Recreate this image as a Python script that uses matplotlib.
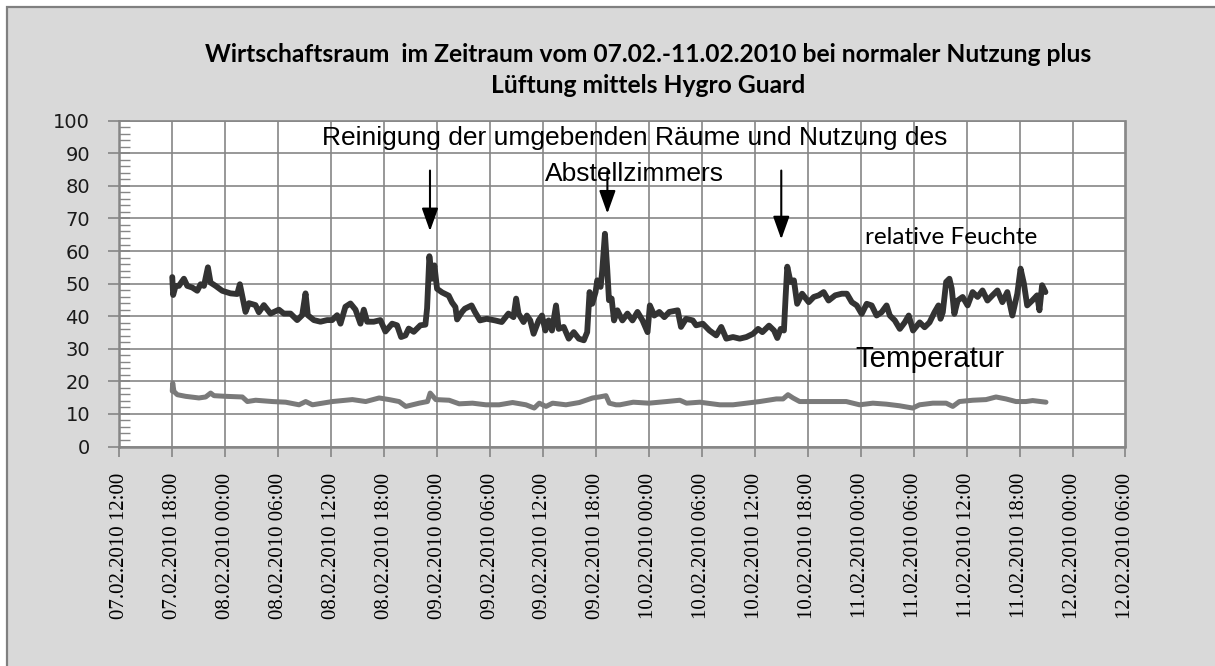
import matplotlib
matplotlib.use("Agg")
import matplotlib.pyplot as plt
import matplotlib.dates as mdates
from matplotlib.patches import Rectangle
from matplotlib.ticker import MultipleLocator
from datetime import datetime, timedelta

# ---------------- data ----------------
START = datetime(2010, 2, 7, 18, 0)   # first measurement

hum_hours = [0.0, 0.1, 0.38, 0.75, 1.32, 1.70, 2.26, 2.83, 3.21, 3.59,
             4.04, 4.34, 4.91, 5.66, 6.60, 7.36, 7.66, 7.92, 8.30, 8.68,
             9.43, 9.81, 10.38, 11.13, 12.08, 12.64, 13.40, 14.15, 14.72, 15.10,
             15.36, 16.04, 16.79, 17.55, 18.11, 18.68, 19.06, 19.62, 20.19, 20.76,
             21.32, 21.70, 22.08, 22.83, 23.58, 24.15, 24.91, 25.47, 25.93, 26.42,
             26.79, 27.36, 28.11, 28.68, 28.87, 29.13, 29.43, 29.70, 30.00, 30.57,
             31.32, 31.70, 32.08, 32.27, 32.83,
             33.15, 33.91, 34.29, 34.86, 35.62, 36.57, 37.33, 38.09, 38.66, 38.96,
             39.23, 39.80, 40.18, 40.56, 40.94, 41.51, 41.89, 42.27, 42.64, 43.02,
             43.48, 43.78, 44.35, 44.92, 45.49, 46.06, 46.63, 47.01, 47.28, 47.58,
             47.96, 48.15, 48.53, 48.72, 49.02, 49.29, 49.48, 49.78, 50.05, 50.43,
             51.00, 51.57, 52.14, 52.71, 53.28, 53.85, 54.11, 54.61, 55.18, 55.75,
             56.31, 57.26, 57.64, 58.21, 58.97, 59.35, 60.11, 60.87, 61.63, 62.20,
             62.77, 63.53, 64.29, 65.05, 65.81, 66.38,
             66.86, 67.61, 68.18, 68.55, 68.93, 69.30, 69.49, 69.68, 70.05, 70.43,
             70.80, 71.36, 72.11, 72.68, 73.24, 73.80, 74.36, 75.11, 75.86, 76.43,
             76.99, 77.55, 78.11, 78.68, 79.24, 79.80, 80.36, 80.93, 81.30, 81.86,
             82.43, 82.99, 83.44, 83.93, 84.68, 85.24, 85.80, 86.36, 86.81, 87.04,
             87.30, 87.68, 88.05, 88.31, 88.61, 88.99, 89.55, 90.11, 90.68, 91.24,
             91.80, 92.36, 92.93, 93.49, 94.05, 94.61, 95.18, 95.74, 96.11, 96.49,
             96.86, 97.43, 97.99, 98.25, 98.55, 98.93]
hum_values = [52, 46.5, 49.3, 49.3, 51.5, 49.3, 48.8, 47.8, 49.8, 49.3,
              55, 50.3, 49.3, 47.8, 47, 46.8, 49.8, 46.3, 41.3, 44,
              43.4, 41.2, 43.4, 40.8, 42, 40.8, 40.8, 38.8, 40.3, 47,
              40.3, 38.8, 38.3, 38.8, 38.8, 40.3, 37.7, 42.9, 43.9, 42,
              37.7, 42, 38.3, 38.3, 38.8, 35.3, 37.7, 37.2, 33.6, 34.1,
              36.2, 35.2, 37.2, 37.4, 42.4, 58.4, 51.5, 55.6, 48.4, 47.3,
              46.3, 44.2, 42.8, 39, 41.3,
              42.3, 43.3, 41.3, 38.7, 39.2, 38.7, 38.2, 40.8, 39.7, 45.4,
              40.8, 38.2, 40.2, 38.7, 34.6, 38.7, 40.2, 35.6, 38.7, 35.6,
              43.3, 36.1, 36.7, 33.1, 35.1, 33.1, 32.6, 35.1, 47.4, 43.8,
              47.4, 51, 49, 54.1, 65.3, 54.1, 44.9, 45.4, 38.7, 41.8,
              38.7, 40.8, 38.7, 41.3, 38.7, 35.1, 43.3, 40.2, 41.3, 39.7,
              41.3, 41.8, 36.7, 39.2, 38.7, 37.2, 37.7, 35.6, 34.1, 36.7,
              33.1, 33.6, 33.1, 33.6, 34.6, 36.1,
              35.1, 37.1, 35.6, 33.3, 36.1, 35.6, 45.9, 55.2, 50.5, 51,
              43.8, 46.9, 44.3, 45.9, 46.4, 47.4, 44.8, 46.4, 46.9, 46.9,
              44.3, 43.3, 40.7, 43.8, 43.3, 40.2, 41.2, 43.3, 40.2, 38.7,
              36.1, 38.1, 40.2, 35.6, 38.1, 36.6, 38.1, 41.2, 43.3, 39.2,
              41.2, 50.5, 51.5, 48.5, 40.7, 44.8, 45.9, 43.3, 47.4, 45.9,
              47.9, 44.8, 46.4, 47.9, 44.3, 47.4, 40.2, 46.9, 54.6, 50,
              43.3, 44.8, 46.4, 41.8, 49.5, 47.4]

temp_hours = [0, 0.05, 0.19, 0.57, 1.51, 3.02, 3.78, 4.35, 4.73, 6.05,
              7.94, 8.51, 9.45, 11.34, 12.85, 14.36, 15.12, 15.88, 18.14, 20.41,
              21.92, 23.44, 24.57, 25.70, 26.46, 27.97, 28.92, 29.22, 29.86, 31.37,
              32.51, 34.02, 35.53, 37.04, 38.56, 40.07, 41.01, 41.58, 42.34, 43.09,
              44.60, 46.12, 47.63, 48.38, 49.14, 49.52, 50.27, 50.72, 52.23, 54.0,
              56.0, 57.51, 58.26, 59.77, 62.03, 63.54, 65.05, 66.56, 68.44, 69.20,
              69.76, 70.33, 71.08, 72.97, 74.85, 76.36, 77.87, 79.38, 80.89, 82.40,
              83.90, 84.66, 86.17, 87.68, 88.43, 89.18, 90.69, 92.20, 93.33, 94.46,
              95.59, 96.72, 97.48, 98.99]
temp_values = [17, 19.5, 16.9, 15.9, 15.4, 14.9, 15.2, 16.4, 15.6, 15.4,
               15.2, 13.8, 14.2, 13.8, 13.6, 12.8, 13.8, 12.8, 13.8, 14.4,
               13.8, 14.9, 14.4, 13.8, 12.3, 13.3, 13.8, 16.4, 14.4, 14.2,
               13.1, 13.3, 12.8, 12.8, 13.5, 12.8, 11.8, 13.3, 12.3, 13.3,
               12.8, 13.5, 14.9, 15.2, 15.6, 13.3, 12.8, 12.8, 13.6, 13.3,
               13.8, 14.2, 13.3, 13.6, 12.8, 12.8, 13.3, 13.8, 14.6, 14.6,
               15.9, 14.9, 13.8, 13.8, 13.8, 13.8, 12.8, 13.3, 13.0, 12.5,
               11.8, 12.8, 13.3, 13.3, 12.3, 13.8, 14.2, 14.4, 15.2, 14.6,
               13.8, 13.8, 14.1, 13.6]

tick_labels = ["07.02.2010 12:00", "07.02.2010 18:00", "08.02.2010 00:00",
               "08.02.2010 06:00", "08.02.2010 12:00", "08.02.2010 18:00",
               "09.02.2010 00:00", "09.02.2010 06:00", "09.02.2010 12:00",
               "09.02.2010 18:00", "10.02.2010 00:00", "10.02.2010 06:00",
               "10.02.2010 12:00", "10.02.2010 18:00", "11.02.2010 00:00",
               "11.02.2010 06:00", "11.02.2010 12:00", "11.02.2010 18:00",
               "12.02.2010 00:00", "12.02.2010 06:00"]
y_ticks = [0, 10, 20, 30, 40, 50, 60, 70, 80, 90, 100]

title_lines = ["Wirtschaftsraum  im Zeitraum vom 07.02.-11.02.2010 bei normaler Nutzung plus",
               "Lüftung mittels Hygro Guard"]
note_lines = ["Reinigung der umgebenden Räume und Nutzung des", "Abstellzimmers"]
arrow_hours = [29.2, 49.3, 69.0]
arrow_tops = [84.7, 84.5, 84.7]
arrow_tips = [66.1, 71.5, 63.6]

# ---------------- figure ----------------
W, H = 1215, 666
fig = plt.figure(figsize=(W / 100, H / 100), dpi=100)
fig.patch.set_facecolor("white")
fig.patches.append(Rectangle((7 / W, -10 / H), (W + 20) / W, (659 + 10) / H,
                             transform=fig.transFigure, facecolor="#d9d9d9",
                             edgecolor="#808080", lw=1.6, zorder=-10))


def hdate(h):
    return mdates.date2num(START + timedelta(hours=h))


ax = fig.add_axes([119.3 / W, 1 - 446.5 / H, (1125.5 - 119.3) / W, (446.5 - 120.7) / H])
ax.set_facecolor("white")

GRID = "#868686"
tick_dates = [mdates.date2num(datetime.strptime(s, "%d.%m.%Y %H:%M")) for s in tick_labels]
ax.set_xlim(tick_dates[0], tick_dates[-1])
ax.set_ylim(0, 100)
ax.set_xticks(tick_dates)
ax.set_xticklabels(tick_labels, rotation=90, family="Liberation Serif", fontsize=15)
ax.set_yticks(y_ticks)
ax.set_yticklabels([str(v) for v in y_ticks], family="DejaVu Sans", fontsize=14, color="#1a1a1a")
ax.yaxis.set_minor_locator(MultipleLocator(2))
ax.tick_params(axis="x", which="major", direction="out", length=7, width=1.2, color=GRID, pad=12)
ax.tick_params(axis="y", which="major", direction="inout", length=16, width=1.2, color=GRID, pad=13)
ax.tick_params(axis="y", which="minor", direction="in", length=8, width=1.0, color=GRID)
ax.grid(True, which="major", color=GRID, lw=1.2)
ax.set_axisbelow(True)
for sp in ax.spines.values():
    sp.set_color(GRID)
    sp.set_linewidth(1.2)
ax.spines["bottom"].set_linewidth(1.8)
ax.spines["left"].set_linewidth(1.8)

ax.plot([hdate(h) for h in temp_hours], temp_values, color="#7a7a7a", lw=3.6,
        solid_joinstyle="round", solid_capstyle="round", zorder=3)
ax.plot([hdate(h) for h in hum_hours], hum_values, color="#333333", lw=4.2,
        solid_joinstyle="round", solid_capstyle="round", zorder=4)

# arrows
for h, top, tip in zip(arrow_hours, arrow_tops, arrow_tips):
    ax.annotate("", xy=(hdate(h), tip), xytext=(hdate(h), top),
                arrowprops=dict(arrowstyle="-|>,head_length=0.7,head_width=0.25",
                                mutation_scale=20, lw=1.5, color="black",
                                shrinkA=0, shrinkB=0), zorder=6)

renderer = fig.canvas.get_renderer()


def fit_width(t, target):
    w = t.get_window_extent(renderer).width
    t.set_fontsize(t.get_fontsize() * target / w)


# title
t1 = fig.text(648.6 / W, 1 - 61.7 / H, title_lines[0], ha="center", va="baseline",
              family="Lato", weight="bold", fontsize=16, color="black")
fit_width(t1, 888)
fig.text(648.6 / W, 1 - 92.7 / H, title_lines[1], ha="center", va="baseline",
         family="Lato", weight="bold", fontsize=t1.get_fontsize(), color="black")

# notes
n1 = ax.text(hdate(52.4), 92.6, note_lines[0], ha="center", va="baseline",
             family="Liberation Sans", fontsize=19, color="black", zorder=7)
fit_width(n1, 626)
ax.text(hdate(52.4), 81.5, note_lines[1], ha="center", va="baseline",
        family="Liberation Sans", fontsize=n1.get_fontsize(), color="black", zorder=7)

rf = ax.text(hdate(78.5), 62.3, "relative Feuchte", ha="left", va="baseline",
             family="Lato", fontsize=15, color="black", zorder=7)
fit_width(rf, 173)
tp = ax.text(hdate(77.4), 24.5, "Temperatur", ha="left", va="baseline",
             family="Liberation Sans", fontsize=20, color="black", zorder=7)
fit_width(tp, 149)

fig.savefig("out.png", dpi=100, facecolor=fig.get_facecolor())
